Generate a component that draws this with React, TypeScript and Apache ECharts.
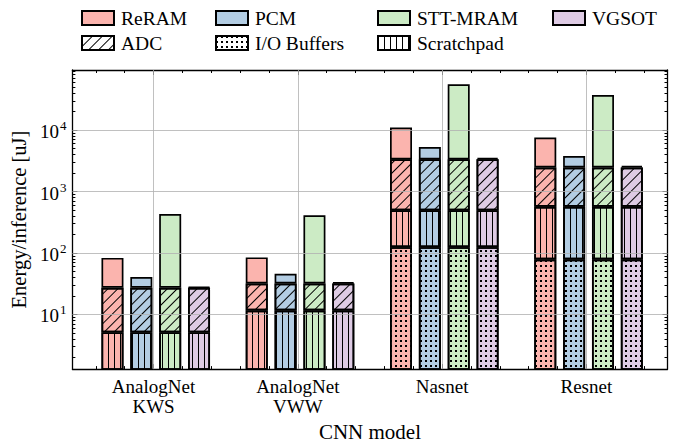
import React, { useEffect, useRef } from 'react';
import * as echarts from 'echarts';

// ---- data ----
const categories = ['AnalogNet\nKWS', 'AnalogNet\nVWW', 'Nasnet', 'Resnet'];
const technologies = ['ReRAM', 'PCM', 'STT-MRAM', 'VGSOT'];
const techColors = ['#fbb4ae', '#b3cde3', '#ccebc5', '#decbe4'];
// shared peripheral components (uJ), per CNN model
const ioBuffers = [0.5, 0.5, 124.5, 78.5];
const scratchpad = [4.6, 11.1, 370, 487];
const adc = [22.1, 20.2, 2846, 1900];
// memory array energy per technology (uJ), per CNN model
const memReRAM = [56, 53, 7700, 5100];
const memPCM = [13.5, 14.1, 1970, 1320];
const memSTT = [403, 378, 52360, 34790];
const memVGSOT = [1.0, 1.6, 215, 160];
const memory = [memReRAM, memPCM, memSTT, memVGSOT];
// tick values
const yMajorTicks = [10, 100, 1000, 10000];
const yMinorTicks = [
  2, 3, 4, 5, 6, 7, 8, 9,
  20, 30, 40, 50, 60, 70, 80, 90,
  200, 300, 400, 500, 600, 700, 800, 900,
  2000, 3000, 4000, 5000, 6000, 7000, 8000, 9000,
  20000, 30000, 40000, 50000, 60000, 70000, 80000, 90000,
];
const xMajorTicks = [0, 1, 2, 3];
const xMinorTicks = [
  -0.4, -0.2, 0.2, 0.4, 0.6, 0.8, 1.2, 1.4, 1.6, 1.8, 2.2, 2.4, 2.6, 2.8, 3.2, 3.4,
];
const barOffsets = [-0.3, -0.1, 0.1, 0.3];

const FONT = 'Liberation Serif';
const X_MIN = -0.5625;
const X_MAX = 3.5625;
const Y_MIN = 1.29;
const Y_MAX = 95000;

const decalHatch = {
  symbol: 'rect',
  symbolSize: 1,
  color: '#000',
  dashArrayX: [1, 0],
  dashArrayY: [1, 5.4],
  rotation: -Math.PI / 4,
};
const decalVertical = {
  symbol: 'rect',
  symbolSize: 1,
  color: '#000',
  dashArrayX: [1, 4.4],
  dashArrayY: [1, 0],
  rotation: 0,
};
const decalDots = {
  symbol: 'rect',
  symbolSize: 1,
  color: '#000',
  dashArrayX: [1.2, 2.8],
  dashArrayY: [1.2, 2.8],
  rotation: 0,
};

// value order: [energy, x]  (energy first so that it is the stacked dimension)
function buildData(getValue: (g: number, t: number) => number) {
  const out: any[] = [];
  for (let g = 0; g < categories.length; g++) {
    for (let t = 0; t < technologies.length; t++) {
      out.push({
        value: [getValue(g, t), g + barOffsets[t]],
        itemStyle: { color: techColors[t] },
      });
    }
  }
  return out;
}

const barBorder = { borderColor: '#000', borderWidth: 1.7 };

function buildOption(): any {
  const axisLineStyle = { color: '#000', width: 1.3 };
  const baseX = {
    type: 'value',
    min: X_MIN,
    max: X_MAX,
    gridIndex: 0,
    splitLine: { show: false },
  };
  const baseY = {
    type: 'log',
    min: Y_MIN,
    max: Y_MAX,
    gridIndex: 0,
    splitLine: { show: false },
  };
  const legendBase = {
    itemWidth: 32,
    itemHeight: 14,
    icon: 'rect',
    padding: 0,
    selectedMode: false,
    textStyle: { fontFamily: FONT, fontSize: 19.5, color: '#000', padding: [0, 0, 0, 2] },
  };
  const legendPos = [
    { name: 'ReRAM', left: 81, top: 8 },
    { name: 'PCM', left: 215, top: 8 },
    { name: 'STT-MRAM', left: 377, top: 8 },
    { name: 'VGSOT', left: 552, top: 8 },
    { name: 'ADC', left: 81, top: 33 },
    { name: 'I/O Buffers', left: 215, top: 33 },
    { name: 'Scratchpad', left: 377, top: 33 },
  ];
  const tickStyle = { color: '#000', width: 1 };

  const barSeries = (name: string, decal: any, getValue: (g: number, t: number) => number) => ({
    type: 'bar',
    name,
    stack: 'total',
    xAxisIndex: 0,
    yAxisIndex: 0,
    barWidth: 22,
    z: 2,
    encode: { x: 1, y: 0 },
    itemStyle: decal ? { color: '#fff', ...barBorder, decal } : { ...barBorder },
    data: buildData(getValue),
  });

  return {
    animation: false,
    backgroundColor: '#fff',
    textStyle: { fontFamily: FONT },
    grid: { left: 72, right: 10.5, top: 70, bottom: 70.5, containLabel: false },
    legend: legendPos.map((p) => ({ ...legendBase, data: [p.name], left: p.left, top: p.top })),
    xAxis: [
      {
        ...baseX,
        position: 'bottom',
        axisLine: { show: true, onZero: false, lineStyle: axisLineStyle },
        axisTick: { show: true, inside: true, length: 5, customValues: xMajorTicks, lineStyle: tickStyle },
        axisLabel: {
          show: true,
          customValues: xMajorTicks,
          margin: 7,
          fontFamily: FONT,
          fontSize: 19,
          lineHeight: 20,
          color: '#000',
          formatter: (v: number) => {
            const i = Math.round(v);
            return Math.abs(v - i) < 1e-6 && categories[i] ? categories[i] : '';
          },
        },
        name: 'CNN model',
        nameLocation: 'middle',
        nameGap: 45,
        nameTextStyle: { fontFamily: FONT, fontSize: 21, color: '#000' },
      },
      {
        ...baseX,
        position: 'bottom',
        axisLine: { show: false, onZero: false },
        axisTick: { show: true, inside: true, length: 3, customValues: xMinorTicks, lineStyle: tickStyle },
        axisLabel: { show: false },
      },
      {
        ...baseX,
        position: 'top',
        axisLine: { show: true, onZero: false, lineStyle: axisLineStyle },
        axisTick: { show: true, inside: true, length: 5, customValues: xMajorTicks, lineStyle: tickStyle },
        axisLabel: { show: false },
      },
      {
        ...baseX,
        position: 'top',
        axisLine: { show: false, onZero: false },
        axisTick: { show: true, inside: true, length: 3, customValues: xMinorTicks, lineStyle: tickStyle },
        axisLabel: { show: false },
      },
    ],
    yAxis: [
      {
        ...baseY,
        position: 'left',
        axisLine: { show: true, onZero: false, lineStyle: axisLineStyle },
        axisTick: { show: true, inside: true, length: 5, customValues: yMajorTicks, lineStyle: tickStyle },
        axisLabel: {
          show: true,
          customValues: yMajorTicks,
          margin: 6,
          color: '#000',
          formatter: (v: number) => `{b|10}{s|${Math.round(Math.log10(v))}}`,
          rich: {
            b: { fontFamily: FONT, fontSize: 19, color: '#000', lineHeight: 22, verticalAlign: 'bottom' },
            s: { fontFamily: FONT, fontSize: 13, color: '#000', lineHeight: 22, verticalAlign: 'top', padding: [0, 0, 0, 1] },
          },
        },
        name: 'Energy/inference [uJ]',
        nameLocation: 'middle',
        nameGap: 43,
        nameTextStyle: { fontFamily: FONT, fontSize: 20.5, color: '#000' },
      },
      {
        ...baseY,
        position: 'left',
        axisLine: { show: false, onZero: false },
        axisTick: { show: true, inside: true, length: 3, customValues: yMinorTicks, lineStyle: tickStyle },
        axisLabel: { show: false },
      },
      {
        ...baseY,
        position: 'right',
        axisLine: { show: true, onZero: false, lineStyle: axisLineStyle },
        axisTick: { show: true, inside: true, length: 5, customValues: yMajorTicks, lineStyle: tickStyle },
        axisLabel: { show: false },
      },
      {
        ...baseY,
        position: 'right',
        axisLine: { show: false, onZero: false },
        axisTick: { show: true, inside: true, length: 3, customValues: yMinorTicks, lineStyle: tickStyle },
        axisLabel: { show: false },
      },
    ],
    series: [
      ...technologies.map((t, i) => ({
        type: 'bar',
        name: t,
        data: [],
        xAxisIndex: 0,
        yAxisIndex: 0,
        itemStyle: { color: techColors[i], ...barBorder },
      })),
      barSeries('I/O Buffers', decalDots, (g) => ioBuffers[g]),
      barSeries('Scratchpad', decalVertical, (g) => scratchpad[g]),
      barSeries('ADC', decalHatch, (g) => adc[g]),
      barSeries('Memory', null, (g, t) => memory[t][g]),
      {
        type: 'line',
        name: 'grid',
        data: [],
        xAxisIndex: 0,
        yAxisIndex: 0,
        z: 3,
        silent: true,
        markLine: {
          silent: true,
          symbol: ['none', 'none'],
          label: { show: false },
          lineStyle: { color: '#b0b0b0', width: 1, type: 'solid', opacity: 0.8 },
          data: [
            ...xMajorTicks.map((x) => ({ xAxis: x })),
            ...yMajorTicks.map((y) => ({ yAxis: y })),
          ],
        },
      },
    ],
  };
}

export default function App() {
  const ref = useRef<HTMLDivElement>(null);
  useEffect(() => {
    if (!ref.current) return;
    const chart = echarts.init(ref.current, null, { renderer: 'svg' });
    chart.setOption(buildOption());
    return () => chart.dispose();
  }, []);
  return (
    <div
      ref={ref}
      style={{ position: 'fixed', left: 0, top: 0, width: 678, height: 447, background: '#fff' }}
    />
  );
}
